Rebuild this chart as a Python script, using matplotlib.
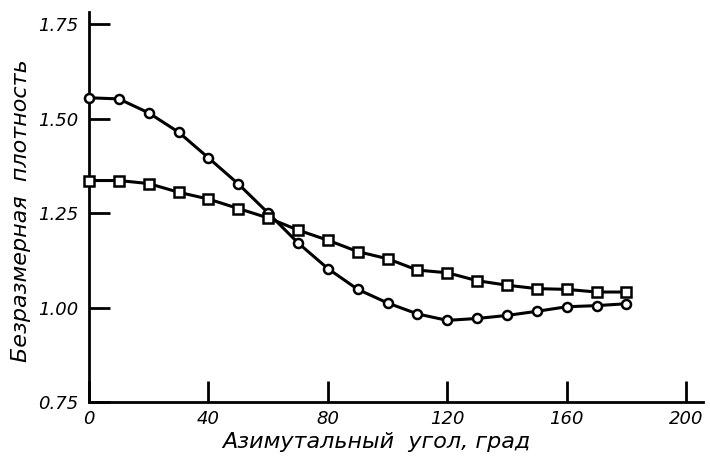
import matplotlib.pyplot as plt

# azimuthal angle, deg
angle = [0, 10, 20, 30, 40, 50, 60, 70, 80, 90, 100, 110, 120, 130, 140, 150, 160, 170, 180]
# circles
dens_circ = [1.555, 1.552, 1.515, 1.464, 1.396, 1.327, 1.250, 1.171, 1.103, 1.048, 1.012,
             0.983, 0.966, 0.971, 0.979, 0.990, 1.002, 1.005, 1.010]
# squares
dens_sq = [1.336, 1.336, 1.328, 1.305, 1.287, 1.262, 1.237, 1.205, 1.178, 1.148, 1.129,
           1.099, 1.092, 1.071, 1.059, 1.050, 1.048, 1.041, 1.041]

xticks = [0, 40, 80, 120, 160, 200]
yticks = [0.75, 1.00, 1.25, 1.50, 1.75]
ytick_labels = ['0.75', '1.00', '1.25', '1.50', '1.75']

plt.rcParams['font.family'] = 'DejaVu Sans'
plt.rcParams['font.style'] = 'italic'

fig = plt.figure(figsize=(7.10, 4.58), dpi=100)
ax = fig.add_axes([0.1254, 0.1223, 0.865, 0.8515])

ax.plot(angle, dens_circ, color='black', lw=2.2, marker='o', ms=6.5,
        mfc='white', mec='black', mew=1.8, clip_on=False, zorder=3)
ax.plot(angle, dens_sq, color='black', lw=2.2, marker='s', ms=6.5,
        mfc='white', mec='black', mew=1.8, clip_on=False, zorder=3)

ax.set_xlim(0, 205.7)
ax.set_ylim(0.75, 1.782)
ax.set_xticks(xticks)
ax.set_yticks(yticks)
ax.set_yticklabels(ytick_labels)

for s in ['top', 'right']:
    ax.spines[s].set_visible(False)
for s in ['left', 'bottom']:
    ax.spines[s].set_linewidth(2.0)

ax.tick_params(direction='in', length=15, width=2, labelsize=13, pad=6)
ax.tick_params(axis='y', pad=8)

ax.set_xlabel('Азимутальный  угол, град', fontsize=16)
ax.xaxis.set_label_coords(0.468, -0.078)
ax.set_ylabel('Безразмерная  плотность', fontsize=16)
ax.yaxis.set_label_coords(-0.094, 0.49)

fig.savefig('out.png', dpi=100)
